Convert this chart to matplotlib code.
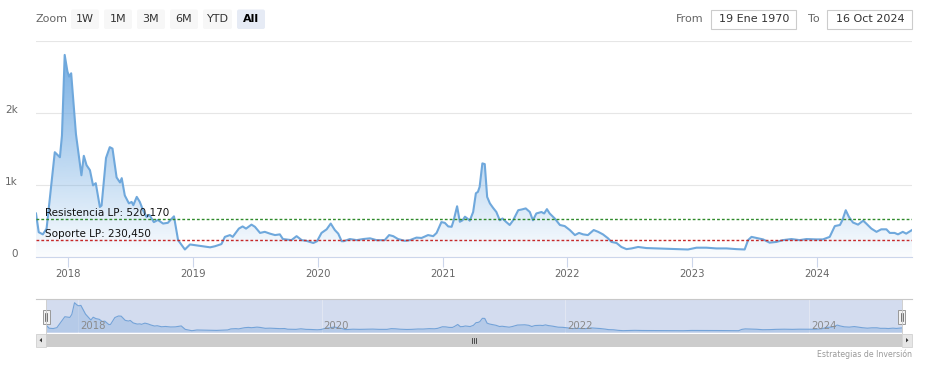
import matplotlib
matplotlib.use('Agg')
import matplotlib.pyplot as plt
import matplotlib.dates as mdates
import numpy as np
import pandas as pd
from matplotlib.patches import FancyBboxPatch, Rectangle, Polygon
from matplotlib.transforms import ScaledTranslation
from matplotlib.colors import to_rgb

# ---------------- data ----------------
dates = [
    "2017-09-28", "2017-10-06", "2017-10-18", "2017-10-29", "2017-11-22", "2017-12-07",
    "2017-12-13", "2017-12-21", "2017-12-29", "2018-01-03", "2018-01-09", "2018-01-23",
    "2018-02-08", "2018-02-15", "2018-02-23", "2018-03-05", "2018-03-14", "2018-03-22",
    "2018-04-03", "2018-04-08", "2018-04-21", "2018-05-02", "2018-05-10", "2018-05-22",
    "2018-06-01", "2018-06-06", "2018-06-15", "2018-06-27", "2018-07-05", "2018-07-10",
    "2018-07-20", "2018-07-29", "2018-08-07", "2018-08-18", "2018-08-26", "2018-09-08",
    "2018-09-20", "2018-10-05", "2018-10-19", "2018-11-06", "2018-11-18", "2018-12-08",
    "2018-12-23", "2019-01-21", "2019-02-20", "2019-03-06", "2019-03-25", "2019-04-04",
    "2019-04-19", "2019-04-27", "2019-05-15", "2019-05-26", "2019-06-05", "2019-06-21",
    "2019-07-01", "2019-07-16", "2019-07-30", "2019-08-14", "2019-08-29", "2019-09-12",
    "2019-09-21", "2019-10-16", "2019-10-31", "2019-11-15", "2019-11-29", "2019-12-19",
    "2019-12-30", "2020-01-12", "2020-01-27", "2020-02-08", "2020-02-20", "2020-03-01",
    "2020-03-11", "2020-03-17", "2020-04-04", "2020-04-24", "2020-05-13", "2020-06-02",
    "2020-06-21", "2020-07-15", "2020-07-28", "2020-08-09", "2020-08-23", "2020-09-12",
    "2020-09-27", "2020-10-16", "2020-10-31", "2020-11-19", "2020-12-04", "2020-12-14",
    "2020-12-28", "2021-01-07", "2021-01-17", "2021-01-27", "2021-02-02", "2021-02-12",
    "2021-02-20", "2021-02-28", "2021-03-07", "2021-03-14", "2021-03-21", "2021-03-31",
    "2021-04-08", "2021-04-14", "2021-04-19", "2021-04-27", "2021-05-04", "2021-05-11",
    "2021-05-19", "2021-05-28", "2021-06-07", "2021-06-17", "2021-06-25", "2021-07-05",
    "2021-07-16", "2021-07-26", "2021-08-10", "2021-08-20", "2021-09-01", "2021-09-13",
    "2021-09-22", "2021-10-02", "2021-10-17", "2021-10-25", "2021-11-02", "2021-11-10",
    "2021-11-25", "2021-12-10", "2021-12-24", "2022-01-08", "2022-01-23", "2022-02-04",
    "2022-02-16", "2022-03-02", "2022-03-19", "2022-04-01", "2022-04-15", "2022-04-30",
    "2022-05-10", "2022-05-25", "2022-06-08", "2022-06-23", "2022-07-08", "2022-07-27",
    "2022-08-20", "2022-09-19", "2022-10-18", "2022-11-16", "2022-12-20", "2023-01-14",
    "2023-02-12", "2023-03-13", "2023-04-12", "2023-05-11", "2023-06-04", "2023-06-14",
    "2023-06-24", "2023-07-08", "2023-07-28", "2023-08-16", "2023-09-05", "2023-09-24",
    "2023-10-19", "2023-11-12", "2023-12-02", "2023-12-31", "2024-01-19", "2024-02-08",
    "2024-02-23", "2024-03-09", "2024-03-16", "2024-03-26", "2024-04-04", "2024-04-16",
    "2024-05-01", "2024-05-16", "2024-05-25", "2024-06-09", "2024-06-24", "2024-07-08",
    "2024-07-23", "2024-08-02", "2024-08-16", "2024-08-26", "2024-09-09", "2024-09-19",
    "2024-10-06",
]
values = [
    600, 340, 310, 390, 1450, 1380,
    1680, 2800, 2570, 2500, 2545, 1700,
    1130, 1400, 1270, 1200, 990, 1020,
    690, 710, 1370, 1520, 1500, 1100,
    1030, 1090, 850, 740, 760, 715,
    830, 760, 650, 550, 580, 480,
    510, 460, 470, 560, 230, 100,
    170, 150, 130, 145, 175, 275,
    300, 275, 390, 420, 390, 445,
    415, 330, 345, 320, 300, 310,
    245, 230, 285, 230, 220, 190,
    215, 330, 380, 460, 370, 320,
    215, 215, 245, 230, 245, 255,
    230, 230, 300, 285, 245, 220,
    230, 265, 260, 300, 285, 330,
    480, 470, 420, 415, 505, 700,
    485, 505, 555, 530, 500, 620,
    880, 900, 970, 1295, 1285, 830,
    740, 680, 620, 505, 530, 485,
    440, 505, 645, 655, 670, 620,
    505, 600, 620, 600, 660, 600,
    530, 440, 425, 370, 300, 330,
    310, 300, 370, 345, 310, 255,
    205, 190, 135, 105, 115, 135,
    120, 115, 110, 105, 100, 125,
    125, 115, 115, 105, 100, 230,
    275, 260, 240, 195, 205, 230,
    245, 230, 245, 240, 240, 275,
    425, 440, 505, 645, 555, 475,
    445, 500, 460, 390, 345, 380,
    380, 330, 330, 310, 345, 320,
    370,
]
resistance = 520.170
support = 230.450
resistance_label = "Resistencia LP: 520,170"
support_label = "Soporte LP: 230,450"
y_ticks = [0, 1000, 2000]
y_tick_labels = ["0", "1k", "2k"]
x_tick_years = [2018, 2019, 2020, 2021, 2022, 2023, 2024]
nav_tick_years = [2018, 2020, 2022, 2024]
zoom_buttons = ["1W", "1M", "3M", "6M", "YTD", "All"]
selected_button = "All"
from_text = "19 Ene 1970"
to_text = "16 Oct 2024"
credit_text = "Estrategias de Inversión"

# ---------------- figure ----------------
W, H = 927, 369
fig = plt.figure(figsize=(W / 100, H / 100), dpi=100)
plt.rcParams['font.family'] = ['DejaVu Sans']

def rect(x0, y0, x1, y1):
    return [x0 / W, 1 - y1 / H, (x1 - x0) / W, (y1 - y0) / H]

line_color = '#6fa8dc'
fill_rgb = to_rgb('#74ade3')

xs = mdates.date2num(pd.to_datetime(dates))
vals = np.array(values, dtype=float)

# ---- main axes ----
ax = fig.add_axes(rect(36, 40.5, 912, 256.7))
ax.set_facecolor('white')
poly = Polygon(np.column_stack([np.r_[xs[0], xs, xs[-1]], np.r_[0, vals, 0]]),
               closed=True, facecolor='none', edgecolor='none')
ax.add_patch(poly)
ymax = vals.max()
n = 256
grad = np.zeros((n, 1, 4))
grad[..., :3] = fill_rgb
grad[:, 0, 3] = np.linspace(0.03, 0.97, n)
im = ax.imshow(grad, extent=[xs[0], xs[-1], 0, ymax], origin='lower',
               aspect='auto', interpolation='bilinear', zorder=1)
im.set_clip_path(poly)
ax.plot(xs, vals, color=line_color, lw=1.5, zorder=3, solid_joinstyle='round')

ax.axhline(resistance, color='#2f8a2a', lw=1.0, ls=(0, (2.0, 1.5)), zorder=4)
ax.axhline(support, color='#c62828', lw=1.0, ls=(0, (2.0, 1.5)), zorder=4)
ax.annotate(resistance_label, xy=(0, resistance), xycoords=('axes fraction', 'data'),
            xytext=(9, 3), textcoords='offset pixels', va='baseline', ha='left',
            fontsize=7.5, color='#111111', zorder=5)
ax.annotate(support_label, xy=(0, support), xycoords=('axes fraction', 'data'),
            xytext=(9, 3.5), textcoords='offset pixels', va='baseline', ha='left',
            fontsize=7.5, color='#111111', zorder=5)

ax.set_xlim(xs[0], xs[-1])
ax.set_ylim(0, 3000)
ax.set_yticks([0, 1000, 2000, 3000])
ax.set_yticklabels(y_tick_labels + [""])
ax.yaxis.grid(True, color='#e6e6e6', lw=0.8)
ax.set_axisbelow(True)
ax.tick_params(axis='y', length=0, pad=13, labelsize=7.5, labelcolor='#666666')
for lab in ax.get_yticklabels():
    lab.set_transform(lab.get_transform() + ScaledTranslation(0, 4 / 100, fig.dpi_scale_trans))
xt = mdates.date2num([pd.Timestamp(f"{y}-01-01") for y in x_tick_years])
ax.set_xticks(xt)
ax.set_xticklabels([str(y) for y in x_tick_years])
ax.tick_params(axis='x', length=7, width=0.8, color='#ccd6eb', pad=1.5,
               labelsize=7.3, labelcolor='#666666')
for s in ['top', 'left', 'right']:
    ax.spines[s].set_visible(False)
ax.spines['bottom'].set_color('#ccd6eb')
ax.spines['bottom'].set_linewidth(0.8)

# ---- navigator ----
nav = fig.add_axes(rect(46.5, 299.3, 902, 333.3))
nav.set_facecolor('#d3dcef')
nxt = mdates.date2num([pd.Timestamp(f"{y}-01-01") for y in nav_tick_years])
for xv in nxt:
    nav.axvline(xv, color='#e2e7f3', lw=0.7, zorder=1)
nav.fill_between(xs, vals, 0, color='#7ea9dd', alpha=0.35, lw=0, zorder=2)
nav.plot(xs, vals, color='#74a3d8', lw=0.8, zorder=3)
nav.set_xlim(xs[0], xs[-1])
nav.set_ylim(-150, 3130)
nav.set_xticks([]); nav.set_yticks([])
for s in nav.spines.values():
    s.set_visible(False)
for xv, y in zip(nxt, nav_tick_years):
    nav.annotate(str(y), xy=(xv, 0), xycoords=('data', 'axes fraction'),
                 xytext=(2, 2), textcoords='offset pixels', ha='left', va='bottom',
                 fontsize=7.3, color='#8a8a8a', zorder=4)

# ---- overlay for UI elements ----
ui = fig.add_axes([0, 0, 1, 1], zorder=10)
ui.set_xlim(0, W); ui.set_ylim(H, 0); ui.axis('off'); ui.patch.set_alpha(0)

ui.text(36, 19.5, "Zoom", fontsize=8, color='#666666', ha='left', va='center')
btn_x = [71, 104, 137, 170, 203, 237]
btn_w = [28, 28, 28, 28, 29, 28]
for b, x0, w in zip(zoom_buttons, btn_x, btn_w):
    sel = (b == selected_button)
    ui.add_patch(FancyBboxPatch((x0, 9.5), w, 19.5, boxstyle="round,pad=0,rounding_size=2",
                                fc='#e6ebf5' if sel else '#f7f7f7', ec='none'))
    ui.text(x0 + w / 2, 19.2, b, fontsize=8, color='#000000' if sel else '#333333',
            ha='center', va='center', fontweight='bold' if sel else 'normal')

ui.text(704, 19.5, "From", fontsize=8, color='#666666', ha='right', va='center')
ui.add_patch(Rectangle((711.5, 9.5), 85, 19.5, fc='white', ec='#cccccc', lw=0.8))
ui.text(754, 19.5, from_text, fontsize=8, color='#333333', ha='center', va='center')
ui.text(820, 19.5, "To", fontsize=8, color='#666666', ha='right', va='center')
ui.add_patch(Rectangle((827.5, 9.5), 85, 19.5, fc='white', ec='#cccccc', lw=0.8))
ui.text(870, 19.5, to_text, fontsize=8, color='#333333', ha='center', va='center')

# navigator outline
ui.plot([36, 912], [299.3, 299.3], color='#c8c8c8', lw=0.8)
ui.plot([46.5, 46.5], [299.3, 333.3], color='#c8c8c8', lw=0.6)
ui.plot([902, 902], [299.3, 333.3], color='#c8c8c8', lw=0.6)
# handles
for hx in [46.5, 902]:
    ui.add_patch(Rectangle((hx - 3.5, 309.5), 7, 14, fc='#f2f2f2', ec='#999999', lw=0.7))
    ui.plot([hx - 1, hx - 1], [312.5, 320.5], color='#444444', lw=0.5)
    ui.plot([hx + 1, hx + 1], [312.5, 320.5], color='#444444', lw=0.5)

# scrollbar
ui.add_patch(Rectangle((36, 333.5), 876, 13.5, fc='#f2f2f2', ec='none'))
ui.add_patch(Rectangle((46.5, 333.5), 855.5, 13.5, fc='#cccccc', ec='none'))
ui.add_patch(Rectangle((36, 333.5), 10.5, 13.5, fc='#e6e6e6', ec='#cccccc', lw=0.5))
ui.add_patch(Rectangle((902, 333.5), 10, 13.5, fc='#e6e6e6', ec='#cccccc', lw=0.5))
ui.add_patch(Polygon([[39.5, 340.2], [42, 338], [42, 342.4]], closed=True, fc='#333333', ec='none'))
ui.add_patch(Polygon([[908.5, 340.2], [906, 338], [906, 342.4]], closed=True, fc='#333333', ec='none'))
for gx in [-2, 0, 2]:
    ui.plot([474 + gx, 474 + gx], [337.5, 343], color='#333333', lw=0.6)

ui.text(912, 354.5, credit_text, fontsize=5.6, color='#999999', ha='right', va='center')

fig.savefig('out.png', dpi=100)
